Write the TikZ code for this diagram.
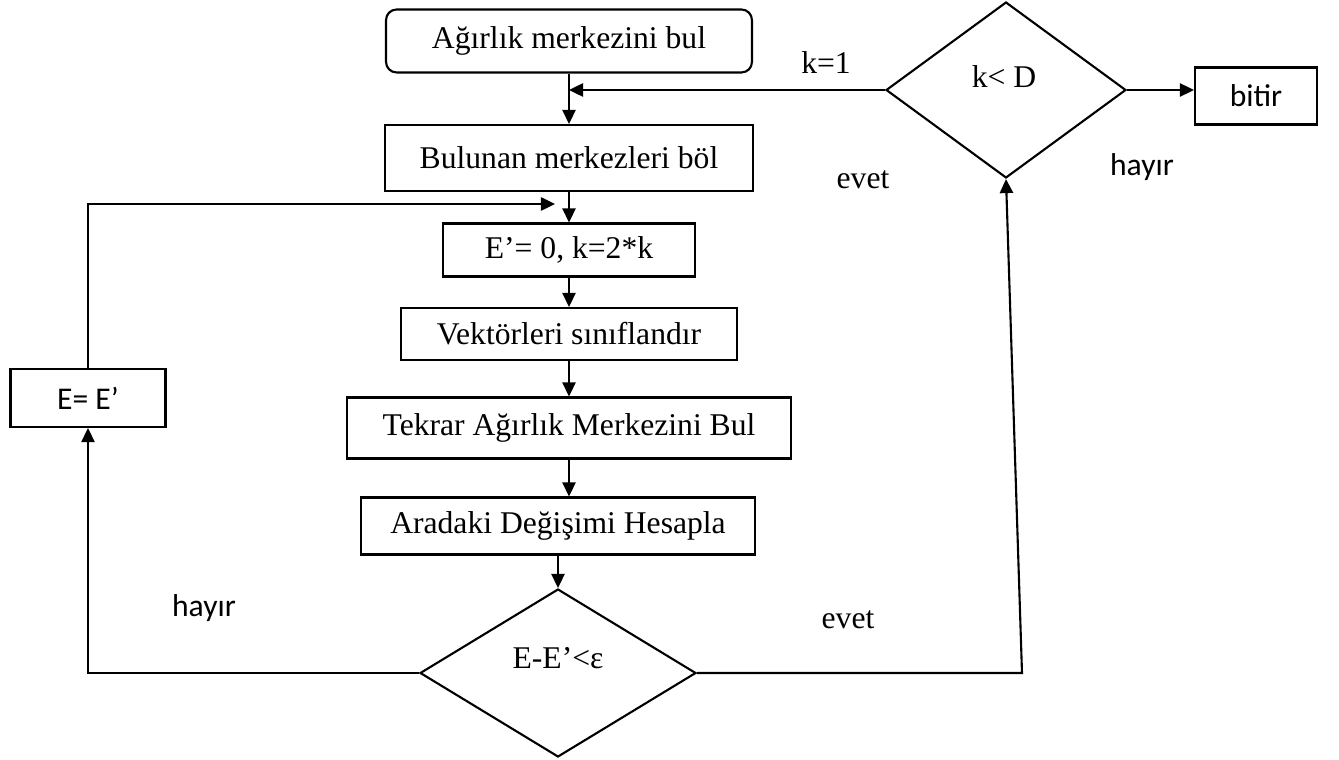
\documentclass[tikz,border=0pt]{standalone}
\usepackage{fontspec}
\setmainfont{Liberation Serif}
\newfontfamily\calibri{Carlito}
\usetikzlibrary{shapes,arrows,calc,arrows.meta}
\usetikzlibrary{positioning}

\begin{document}
\begin{tikzpicture}[x=0.02cm,y=-0.02cm,font=\fontsize{18}{21}\selectfont,
  box/.style={draw,line width=1.2pt,inner sep=0pt},
  karar/.style={draw,diamond,line width=1.2pt,inner sep=0pt},
  arr/.style={line width=1.2pt,-{Triangle[length=8pt,width=7.5pt]}}]
            \useasboundingbox (0,0) rectangle (1339,760);
            \draw (569,41) node[box,rounded corners=6pt,minimum width=7.32cm,minimum height=1.26cm] (mrk) {Ağırlık merkezini bul};
            \draw (569,158) node[box,minimum width=7.36cm,minimum height=1.32cm] (bol) {Bulunan merkezleri böl};
            \draw (569,250) node[box,minimum width=5.04cm,minimum height=1.06cm] (ek) {E’= 0, k=2*k};
            \draw (569,334) node[box,minimum width=6.72cm,minimum height=1.04cm] (vek) {Vektörleri sınıflandır};
            \draw (569,428) node[box,minimum width=8.88cm,minimum height=1.22cm] (tek) {Tekrar Ağırlık Merkezini Bul};
            \draw (558,526) node[box,minimum width=7.88cm,minimum height=1.14cm] (ara) {Aradaki Değişimi Hesapla};
            \draw (558,673) node[karar,minimum width=5.52cm,minimum height=3.36cm] (ee) {};
            \draw (558,658) node (eet) {E-E’<ε};
            \draw (1006,90) node[karar,minimum width=4.8cm,minimum height=3.52cm] (kd) {};
            \draw (1004,77) node (kdt) {k< D};
            \draw (1256,96) node[box,minimum width=2.44cm,minimum height=1.14cm] (bit) {\calibri bitir};
            \draw (88,398) node[box,minimum width=3.1cm,minimum height=1.16cm] (eq) {\calibri E= E’};
            \coordinate (j1) at (569,89);
            \coordinate (j2) at (555,204);
            \coordinate (c3) at (1022,673);
            % etiketler
            \draw (826,63) node (k1) {k=1};
            \draw (863,180) node (ev1) {evet};
            \draw (1142,167) node (hy1) {\calibri hayır};
            \draw (204,608) node (hy2) {\calibri hayır};
            \draw (848,620) node (ev2) {evet};
            \path[arr]
            (mrk) edge (bol)
            (bol) edge (ek)
            (ek) edge (vek)
            (vek) edge (tek)
            (tek.south) edge (tek.south |- ara.north)
            (ara) edge (ee)
            (kd.east) edge (kd.east -| bit.west)
            (kd.west) edge (j1 |- kd.west)
            ;
            \draw[arr] (eq.north) |- (j2);
            \draw[arr] (ee.west) -| (eq.south);
            \draw[arr] (ee.east) -- (c3) -- (kd.south);
        \end{tikzpicture}
\end{document}
